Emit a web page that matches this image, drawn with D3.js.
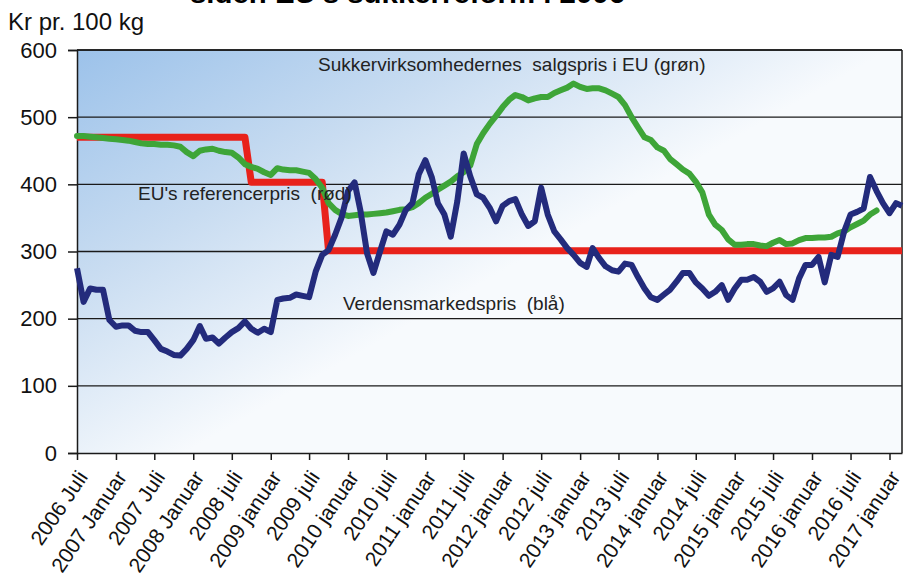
<!DOCTYPE html>
<html>
<head>
<meta charset="utf-8">
<script src="https://cdn.jsdelivr.net/npm/d3@7"></script>
<style>
  body { margin: 0; background: #fff; }
  svg { display: block; font-family: "Liberation Sans", Arial, sans-serif; }
</style>
</head>
<body>
<svg id="chart" width="909" height="582"></svg>
<script>
// monthly series, first value = 2006 juli
var startMonth = "2006-07";

// Verdensmarkedspris (blå)
var worldPrice = [
    275, 225, 245, 243, 243, 198, 188, 190, 190, 182, 180, 180,
    168, 155, 151, 146, 145, 155, 168, 189, 170, 172, 163, 172,
    180, 186, 196, 185, 179, 185, 180, 228, 230, 231, 236, 234,
    232, 270, 295, 302, 325, 350, 390, 403, 360, 297, 268, 300,
    330, 325, 340, 362, 372, 415, 436, 410, 372, 355, 322, 375,
    446, 412, 385, 380, 365, 345, 368, 375, 378, 355, 338, 345,
    395, 355, 330, 318, 305, 295, 283, 277, 305, 290, 278, 272,
    270, 282, 280, 262, 245, 232, 228, 236, 243, 255, 268, 268,
    254, 245, 234, 240, 250, 228, 245, 258, 258, 262, 255, 240,
    245, 255, 235, 228, 260, 280, 280, 292, 254, 295, 292, 330,
    355, 359, 364, 411, 390, 372, 357, 372, 368
];

// Sukkervirksomhedernes salgspris i EU (grøn)
var euSalesPrice = [
    472, 472, 471, 470, 469, 468, 467, 466, 465, 463, 461, 460,
    460, 459, 459, 458, 456, 448, 442, 450, 452, 453, 450, 448,
    447, 440, 430, 426, 423, 418, 414, 424, 422, 421, 421, 419,
    417, 408, 395, 372, 362, 356, 353, 354, 355, 355, 356, 357,
    358, 360, 362, 363, 366, 372, 380, 386, 392, 398, 404, 412,
    418, 428, 460, 476, 490, 502, 515, 526, 533, 530, 525, 528,
    530, 530, 536, 540, 544, 550, 545, 542, 543, 543, 540, 535,
    530, 518, 500, 485, 470, 466, 455, 450, 438, 430, 422, 416,
    404, 388, 355, 340, 332, 318, 310, 310, 311, 311, 309, 308,
    313, 317, 311, 312, 317, 320, 320, 321, 321, 322, 327, 330,
    336, 341, 346, 355, 361
];

// EU's referencepris (rød) - trappetrin
var refMonths = ["2006-07", "2008-09", "2008-10", "2009-09", "2009-10", "2017-03"];
var refPrice  = [470, 470, 403, 403, 301, 301];

var yTicks = [0, 100, 200, 300, 400, 500, 600];
var xTickMonths = ["2006-07", "2007-01", "2007-07", "2008-01", "2008-07", "2009-01", "2009-07",
                   "2010-01", "2010-07", "2011-01", "2011-07", "2012-01", "2012-07", "2013-01",
                   "2013-07", "2014-01", "2014-07", "2015-01", "2015-07", "2016-01", "2016-07", "2017-01"];
var xTickLabels = ["2006 Juli", "2007 Januar", "2007 Juli", "2008 Januar", "2008 juli", "2009 januar",
                   "2009 juli", "2010 januar", "2010 juli", "2011 januar", "2011 juli", "2012 januar",
                   "2012 juli", "2013 januar", "2013 juli", "2014 januar", "2014 juli", "2015 januar",
                   "2015 juli", "2016 januar", "2016 juli", "2017 januar"];

var plotLeft = 77, plotRight = 902, plotTop = 50, plotBottom = 453;
var parseMonth = d3.timeParse("%Y-%m");
var start = parseMonth(startMonth);

function monthly(values) {
    return values.map(function(v, i) { return { date: d3.timeMonth.offset(start, i), value: v }; });
}

var xScale = d3.scaleTime()
    .domain([start, parseMonth("2017-03")])
    .range([plotLeft, plotRight]);

var yScale = d3.scaleLinear()
    .domain([0, 600])
    .range([plotBottom, plotTop]);

var svg = d3.select("#chart");

// background gradient
var grad = svg.append("defs").append("linearGradient")
    .attr("id", "bg")
    .attr("gradientUnits", "userSpaceOnUse")
    .attr("x1", plotLeft).attr("y1", plotTop)
    .attr("x2", plotLeft + 200).attr("y2", plotTop + 350);
grad.append("stop").attr("offset", 0).attr("stop-color", "#9cc2ea");
grad.append("stop").attr("offset", 0.5).attr("stop-color", "#c8dcf1");
grad.append("stop").attr("offset", 1).attr("stop-color", "#f7fafd");

svg.append("rect")
    .attr("x", plotLeft).attr("y", plotTop)
    .attr("width", plotRight - plotLeft).attr("height", plotBottom - plotTop)
    .attr("fill", "url(#bg)");

// title (cut by the top edge)
svg.append("text")
    .attr("x", 190).attr("y", 3)
    .attr("textLength", 435)
    .attr("lengthAdjust", "spacingAndGlyphs")
    .style("font-weight", "bold")
    .style("font-size", "28px")
    .text("siden EU's sukkerreform i 2006");

svg.append("text")
    .attr("x", 8).attr("y", 30)
    .style("font-size", "24px")
    .attr("fill", "#111")
    .text("Kr pr. 100 kg");

// grid lines
svg.append("g")
    .selectAll("line")
    .data(yTicks.slice(1))
    .enter().append("line")
    .attr("x1", plotLeft).attr("x2", plotRight)
    .attr("y1", function(d) { return yScale(d); })
    .attr("y2", function(d) { return yScale(d); })
    .attr("stroke", "#1a1a1a")
    .attr("stroke-width", 1.3);

// right border
svg.append("line")
    .attr("x1", plotRight).attr("x2", plotRight)
    .attr("y1", plotTop).attr("y2", plotBottom)
    .attr("stroke", "#1a1a1a").attr("stroke-width", 1.5);

var yAxis = d3.axisLeft(yScale)
    .tickValues(yTicks)
    .tickSize(9)
    .tickPadding(11);

var gy = svg.append("g")
    .attr("transform", "translate(" + plotLeft + ",0)")
    .call(yAxis);
gy.select(".domain").attr("stroke", "#1a1a1a").attr("stroke-width", 1.5);
gy.selectAll(".tick line").attr("stroke", "#1a1a1a").attr("stroke-width", 1.5);
gy.selectAll("text")
    .style("font-size", "22px")
    .style("font-family", "'Liberation Sans', Arial, sans-serif")
    .attr("fill", "#111");

var xAxis = d3.axisBottom(xScale)
    .tickValues(xTickMonths.map(parseMonth))
    .tickSize(7)
    .tickSizeOuter(0)
    .tickFormat(function(d, i) { return xTickLabels[i]; });

var gx = svg.append("g")
    .attr("transform", "translate(0," + plotBottom + ")")
    .call(xAxis);
gx.select(".domain").attr("stroke", "#1a1a1a").attr("stroke-width", 1.5);
gx.selectAll(".tick line").attr("stroke", "#1a1a1a").attr("stroke-width", 1.5);
gx.selectAll("text")
    .style("font-size", "21px")
    .style("font-family", "'Liberation Sans', Arial, sans-serif")
    .style("text-anchor", "end")
    .attr("fill", "#111")
    .attr("x", 0).attr("y", 0).attr("dy", "0.35em")
    .attr("transform", "translate(5,20) rotate(-56)");

// lines
var line = d3.line()
    .x(function(d) { return xScale(d.date); })
    .y(function(d) { return yScale(d.value); });

var refData = refMonths.map(function(m, i) { return { date: parseMonth(m), value: refPrice[i] }; });

svg.append("path")
    .datum(refData)
    .attr("d", line)
    .attr("fill", "none")
    .attr("stroke", "#e8221b")
    .attr("stroke-width", 7)
    .attr("stroke-linejoin", "round");

svg.append("path")
    .datum(monthly(euSalesPrice))
    .attr("d", line)
    .attr("fill", "none")
    .attr("stroke", "#3ea538")
    .attr("stroke-width", 6)
    .attr("stroke-linejoin", "round")
    .attr("stroke-linecap", "round");

svg.append("path")
    .datum(monthly(worldPrice))
    .attr("d", line)
    .attr("fill", "none")
    .attr("stroke", "#232b7c")
    .attr("stroke-width", 6)
    .attr("stroke-linejoin", "round");

// top border on top of the plot
svg.append("line")
    .attr("x1", plotLeft).attr("x2", plotRight)
    .attr("y1", plotTop).attr("y2", plotTop)
    .attr("stroke", "#1a1a1a").attr("stroke-width", 1.5);

// series labels
var labels = [
    { text: "Sukkervirksomhedernes  salgspris i EU (grøn)", x: 318, y: 71 },
    { text: "EU's referencerpris  (rød)", x: 138, y: 200 },
    { text: "Verdensmarkedspris  (blå)", x: 343, y: 310 }
];
svg.append("g")
    .selectAll("text")
    .data(labels)
    .enter().append("text")
    .attr("x", function(d) { return d.x; })
    .attr("y", function(d) { return d.y; })
    .style("font-size", "19px")
    .style("white-space", "pre")
    .attr("fill", "#222")
    .text(function(d) { return d.text; });
</script>
</body>
</html>
